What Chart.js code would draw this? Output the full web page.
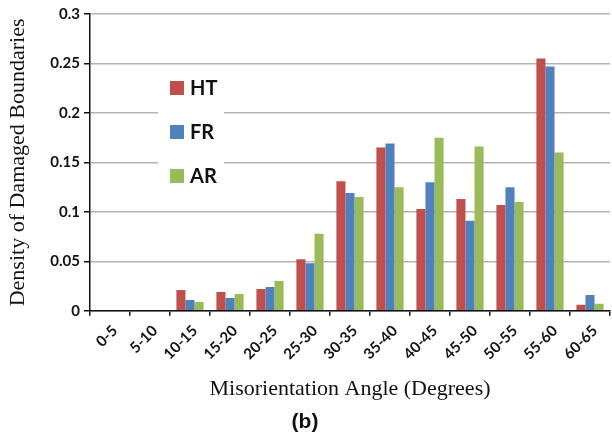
<!DOCTYPE html>
<html>
<head>
<meta charset="utf-8">
<script src="https://cdn.jsdelivr.net/npm/chart.js@4.4.1/dist/chart.umd.min.js"></script>
<style>
html,body{margin:0;padding:0;background:#fff;}
#wrap{width:612px;height:435px;position:relative;}
</style>
</head>
<body>
<div id="wrap"><canvas id="c" width="612" height="435"></canvas></div>
<script>
const categories = ["0-5","5-10","10-15","15-20","20-25","25-30","30-35","35-40","40-45","45-50","50-55","55-60","60-65"];
const seriesNames = ["HT","FR","AR"];
const htValues = [0,0,0.021,0.019,0.022,0.052,0.131,0.165,0.103,0.113,0.107,0.255,0.006];
const frValues = [0,0,0.011,0.013,0.024,0.048,0.119,0.169,0.130,0.091,0.125,0.247,0.016];
const arValues = [0,0,0.009,0.017,0.030,0.078,0.115,0.125,0.175,0.166,0.110,0.160,0.007];
const yTicks = [0,0.05,0.1,0.15,0.2,0.25,0.3];
const yTickLabels = ["0","0.05","0.1","0.15","0.2","0.25","0.3"];
const colors = ["#C0504D","#4F81BD","#9BBB59"];

const legendInside = {
  id: 'legendInside',
  afterDatasetsDraw(chart) {
    const ctx = chart.ctx, ca = chart.chartArea;
    const x0 = ca.left + 68, y0 = ca.top + 56;
    ctx.save();
    ctx.fillStyle = '#fff';
    ctx.fillRect(x0, y0, 66, 126);
    ctx.font = 'bold 20px Lato, "Liberation Sans", sans-serif';
    ctx.textBaseline = 'middle';
    chart.data.datasets.forEach((ds, i) => {
      const cy = y0 + 18 + i * 44;
      ctx.fillStyle = ds.backgroundColor;
      ctx.fillRect(x0 + 12, cy - 7, 14, 14);
      ctx.fillStyle = '#111';
      ctx.fillText(ds.label, x0 + 32, cy + 1);
    });
    ctx.restore();
  }
};

new Chart(document.getElementById('c'), {
  type: 'bar',
  data: {
    labels: categories,
    datasets: [
      {label: seriesNames[0], data: htValues, backgroundColor: colors[0]},
      {label: seriesNames[1], data: frValues, backgroundColor: colors[1]},
      {label: seriesNames[2], data: arValues, backgroundColor: colors[2]}
    ]
  },
  options: {
    responsive: false,
    animation: false,
    devicePixelRatio: 1,
    layout: {padding: {top: 14, right: 2, left: 0, bottom: 0}},
    datasets: {bar: {categoryPercentage: 0.68, barPercentage: 1.0}},
    plugins: {
      legend: {display: false},
      tooltip: {enabled: false},
      title: {
        display: true, text: '(b)', position: 'bottom',
        color: '#111',
        font: {family: '"Liberation Sans", Arial, sans-serif', size: 21, weight: 'bold'},
        padding: {top: 10, bottom: 0}
      }
    },
    scales: {
      x: {
        offset: true,
        grid: {offset: true, drawOnChartArea: false, drawTicks: true, tickLength: 5, tickColor: '#111', lineWidth: 1.5},
        border: {color: '#111', width: 1.5},
        ticks: {
          color: '#111', minRotation: 45, maxRotation: 45, padding: 6, labelOffset: 5,
          font: {family: 'Lato, "Liberation Sans", sans-serif', size: 15, weight: 'bold'}
        },
        title: {
          display: true, text: 'Misorientation Angle (Degrees)', color: '#111',
          font: {family: '"Liberation Serif", "Times New Roman", serif', size: 22, lineHeight: 1.0},
          padding: {top: 6, bottom: 0}
        },
        afterFit(s) { s.height = 89; }
      },
      y: {
        min: 0, max: 0.3,
        afterBuildTicks(s) { s.ticks = yTicks.map(v => ({value: v})); },
        grid: {color: '#b4b4b4', lineWidth: 1.5, drawTicks: true, tickLength: 6, tickColor: '#111'},
        border: {color: '#111', width: 1.5},
        ticks: {
          color: '#111', padding: 4,
          font: {family: 'Lato, "Liberation Sans", sans-serif', size: 15, weight: 'bold'},
          callback: (v, i) => yTickLabels[i]
        },
        title: {
          display: true, text: 'Density of Damaged Boundaries', color: '#111',
          font: {family: '"Liberation Serif", "Times New Roman", serif', size: 22, lineHeight: 1.0},
          padding: {top: 7, bottom: 0}
        },
        afterFit(s) { s.width = 90; }
      }
    }
  },
  plugins: [legendInside]
});
</script>
</body>
</html>
